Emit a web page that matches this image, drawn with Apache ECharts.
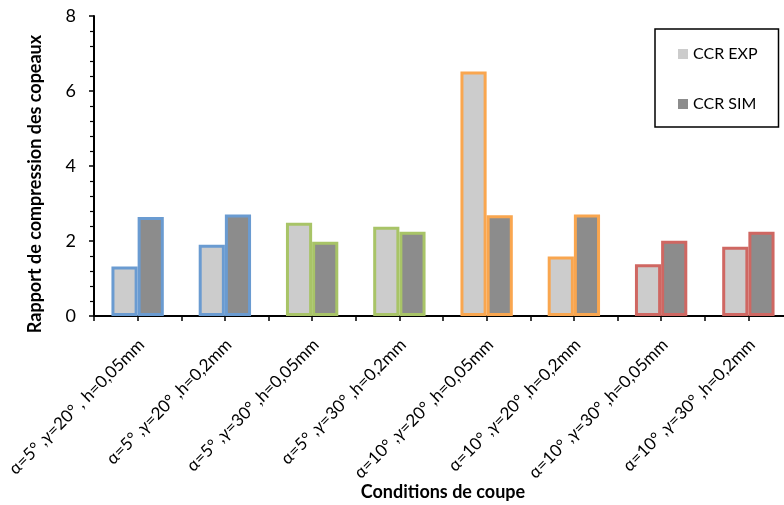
<!DOCTYPE html>
<html><head><meta charset="utf-8">
<script src="https://cdn.jsdelivr.net/npm/echarts@6/dist/echarts.min.js"></script>
<style>html,body{margin:0;padding:0;background:#fff}#c{width:784px;height:505px}</style>
</head><body><div id="c"></div>
<script>
const categories = [
  "α=5° ,γ=20° , h=0,05mm",
  "α=5° ,γ=20° ,h=0,2mm",
  "α=5° ,γ=30° ,h=0,05mm",
  "α=5° ,γ=30° ,h=0,2mm",
  "α=10° ,γ=20° ,h=0,05mm",
  "α=10° ,γ=20° ,h=0,2mm",
  "α=10° ,γ=30° ,h=0,05mm",
  "α=10° ,γ=30° ,h=0,2mm"
];
const ccrExp = [1.32, 1.90, 2.49, 2.38, 6.52, 1.59, 1.38, 1.85];
const ccrSim = [2.64, 2.71, 1.98, 2.25, 2.69, 2.71, 2.01, 2.25];
const borderColors = ["#6A9BD1","#6A9BD1","#A8C467","#A8C467","#F9A64F","#F9A64F","#CF6762","#CF6762"];
const yTicks = [0, 2, 4, 6, 8];

const FONT = "Lato, 'Open Sans', sans-serif";
const gridBox = {left: 94, right: -8, top: 16, bottom: 189, containLabel: false, outerBoundsMode: 'none'};
const labelGridBox = {left: 98, right: -12, top: 16, bottom: 189, containLabel: false, outerBoundsMode: 'none'};

function mk(vals, fill) {
  return vals.map((v, i) => ({
    value: v,
    itemStyle: {color: fill, borderColor: borderColors[i], borderWidth: 3}
  }));
}

const chart = echarts.init(document.getElementById('c'), null, {renderer: 'canvas'});
chart.setOption({
  animation: false,
  textStyle: {fontFamily: FONT},
  grid: [Object.assign({}, gridBox), Object.assign({}, gridBox), Object.assign({}, labelGridBox)],
  legend: {
    data: ['CCR EXP', 'CCR SIM'],
    orient: 'vertical',
    left: 655, top: 29,
    padding: [17, 21, 15, 23],
    itemGap: 34,
    itemWidth: 10, itemHeight: 10,
    icon: 'rect',
    borderColor: '#000', borderWidth: 1.5,
    itemStyle: {borderWidth: 0},
    textStyle: {fontSize: 16, color: '#000', fontFamily: FONT}
  },
  xAxis: [{
    type: 'category',
    gridIndex: 0,
    data: categories,
    name: 'Conditions de coupe',
    nameLocation: 'middle',
    nameGap: 167,
    nameTextStyle: {fontSize: 18, fontWeight: 'bold', color: '#000', fontFamily: FONT},
    axisLine: {lineStyle: {color: '#000', width: 2}},
    axisTick: {show: false},
    axisLabel: {show: false}
  }, {
    type: 'category',
    gridIndex: 1,
    data: categories.concat(categories).map(() => ''),
    axisLine: {show: false},
    axisTick: {show: true, interval: 0, length: 5, lineStyle: {color: '#000', width: 1.5}},
    axisLabel: {show: false}
  }, {
    type: 'category',
    gridIndex: 2,
    data: categories,
    axisLine: {show: false},
    axisTick: {show: false},
    axisLabel: {rotate: 45, interval: 0, fontSize: 17, color: '#000', margin: 26, fontFamily: FONT}
  }],
  yAxis: [{
    type: 'value',
    gridIndex: 0,
    min: yTicks[0], max: yTicks[yTicks.length - 1], interval: 2,
    name: 'Rapport de compression des copeaux',
    nameLocation: 'middle',
    nameGap: 50,
    nameTextStyle: {fontSize: 18, fontWeight: 'bold', color: '#000', fontFamily: FONT, padding: [0, 36, 0, 0]},
    axisLine: {show: true, lineStyle: {color: '#000', width: 2}},
    axisTick: {show: true, length: 5, lineStyle: {color: '#000', width: 1.5}},
    minorTick: {show: true, splitNumber: 5, length: 4, lineStyle: {color: '#000', width: 1.2}},
    splitLine: {show: false},
    axisLabel: {fontSize: 18, color: '#000', margin: 18, fontFamily: FONT}
  }, {
    type: 'value', gridIndex: 1, min: 0, max: 8, show: false
  }, {
    type: 'value', gridIndex: 2, min: 0, max: 8, show: false
  }],
  series: [{
    name: 'CCR EXP', type: 'bar', xAxisIndex: 0, yAxisIndex: 0,
    barGap: '0%', barCategoryGap: '40%',
    itemStyle: {color: '#CCCCCC'},
    data: mk(ccrExp, '#CCCCCC')
  }, {
    name: 'CCR SIM', type: 'bar', xAxisIndex: 0, yAxisIndex: 0,
    barGap: '0%', barCategoryGap: '40%',
    itemStyle: {color: '#8C8C8C'},
    data: mk(ccrSim, '#8C8C8C')
  }]
});
</script></body></html>
